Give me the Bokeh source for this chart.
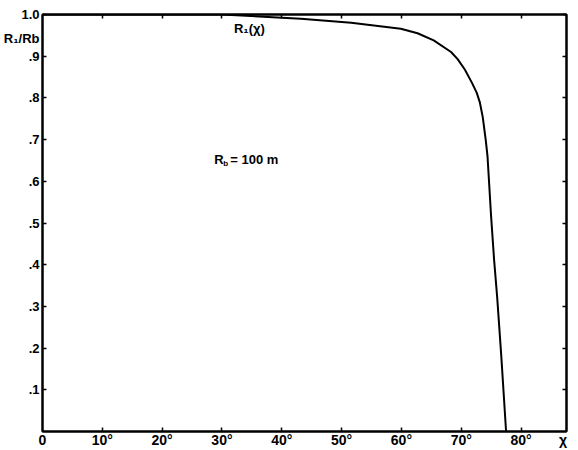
from bokeh.plotting import figure
from bokeh.models import LinearAxis, FixedTicker, CustomJSTickFormatter, Label, Range1d
from bokeh.embed import file_html
from bokeh.resources import INLINE

# data
chi_deg = [0, 10, 20, 30, 31.6, 43.2, 51.6, 59.9, 62.7, 65.4, 68.3, 69.4, 70.6, 71.8,
           72.6, 73.1, 73.6, 74.1, 74.4, 75.0, 75.5, 76.0, 76.7, 77.5]
r_ratio = [1.0, 1.0, 1.0, 1.0, 0.999, 0.990, 0.980, 0.966, 0.955, 0.938, 0.910, 0.893, 0.868, 0.836,
           0.812, 0.790, 0.754, 0.699, 0.659, 0.515, 0.411, 0.324, 0.180, 0.0]
x_ticks = [10, 20, 30, 40, 50, 60, 70, 80]
y_ticks = [0.1, 0.2, 0.3, 0.4, 0.5, 0.6, 0.7, 0.8, 0.9, 1.0]
x_title_pos = 87.0      # where the "χ" axis title sits on the x axis
y_title_pos = 0.943     # where the "R₁/Rb" axis title sits on the y axis

FONT = "Liberation Sans"

p = figure(width=570, height=450, output_backend="svg", toolbar_location=None,
           x_range=Range1d(0, 87.6), y_range=Range1d(0, 1.0),
           min_border_left=41, min_border_right=4, min_border_top=14, min_border_bottom=0,
           x_axis_location=None, y_axis_location=None)
p.grid.visible = False
p.outline_line_color = "black"
p.outline_line_width = 2
p.background_fill_color = "white"
p.border_fill_color = "white"

def style(ax, labels=True):
    ax.axis_line_color = "black"
    ax.axis_line_width = 2
    ax.major_tick_in = 0
    ax.major_tick_out = 0
    ax.minor_tick_in = 4
    ax.minor_tick_out = 0
    ax.minor_tick_line_width = 1.5
    ax.minor_tick_line_color = "black"
    ax.major_label_text_font = FONT
    ax.major_label_text_font_style = "bold"
    ax.major_label_text_color = "black"
    if not labels:
        ax.major_label_text_font_size = "0px"
        ax.major_label_standoff = 0

xb = LinearAxis(ticker=FixedTicker(ticks=[0] + x_ticks + [x_title_pos], minor_ticks=x_ticks),
                formatter=CustomJSTickFormatter(code="""
                    if (tick == 0) return '0';
                    if (tick > 85) return '\u03c7';
                    return tick + '\u00b0';"""))
style(xb)
xb.major_label_text_font_size = "14px"
xb.major_label_standoff = 0
p.add_layout(xb, "below")

yl = LinearAxis(ticker=FixedTicker(ticks=y_ticks + [y_title_pos], minor_ticks=y_ticks),
                formatter=CustomJSTickFormatter(code="""
                    if (Math.abs(tick - 0.943) < 1e-6) return 'R\u2081/Rb';
                    return tick >= 1 ? tick.toFixed(1) : tick.toFixed(1).replace(/^0/, '');"""))
style(yl)
yl.major_label_text_font_size = "13px"
yl.major_label_standoff = 3
p.add_layout(yl, "left")

xt = LinearAxis(ticker=FixedTicker(ticks=[], minor_ticks=x_ticks),
                formatter=CustomJSTickFormatter(code="return ''"))
style(xt, labels=False)
p.add_layout(xt, "above")

yr = LinearAxis(ticker=FixedTicker(ticks=[], minor_ticks=y_ticks),
                formatter=CustomJSTickFormatter(code="return ''"))
style(yr, labels=False)
p.add_layout(yr, "right")

p.line(chi_deg, r_ratio, line_color="black", line_width=2, line_join="round")

def lab(x, y, text, size, align="left", baseline="middle"):
    p.add_layout(Label(x=x, y=y, text=text, text_font=FONT, text_font_size=size,
                       text_font_style="bold", text_align=align, text_baseline=baseline,
                       text_color="black"))

# curve label and parameter
lab(32.0, 0.967, "R\u2081(\u03c7)", "13px")
lab(28.7, 0.653, "R", "13px")
lab(30.2, 0.642, "b", "8px")
lab(31.4, 0.653, "=  100 m", "13px")

open("out.html", "w").write(file_html(p, INLINE))
